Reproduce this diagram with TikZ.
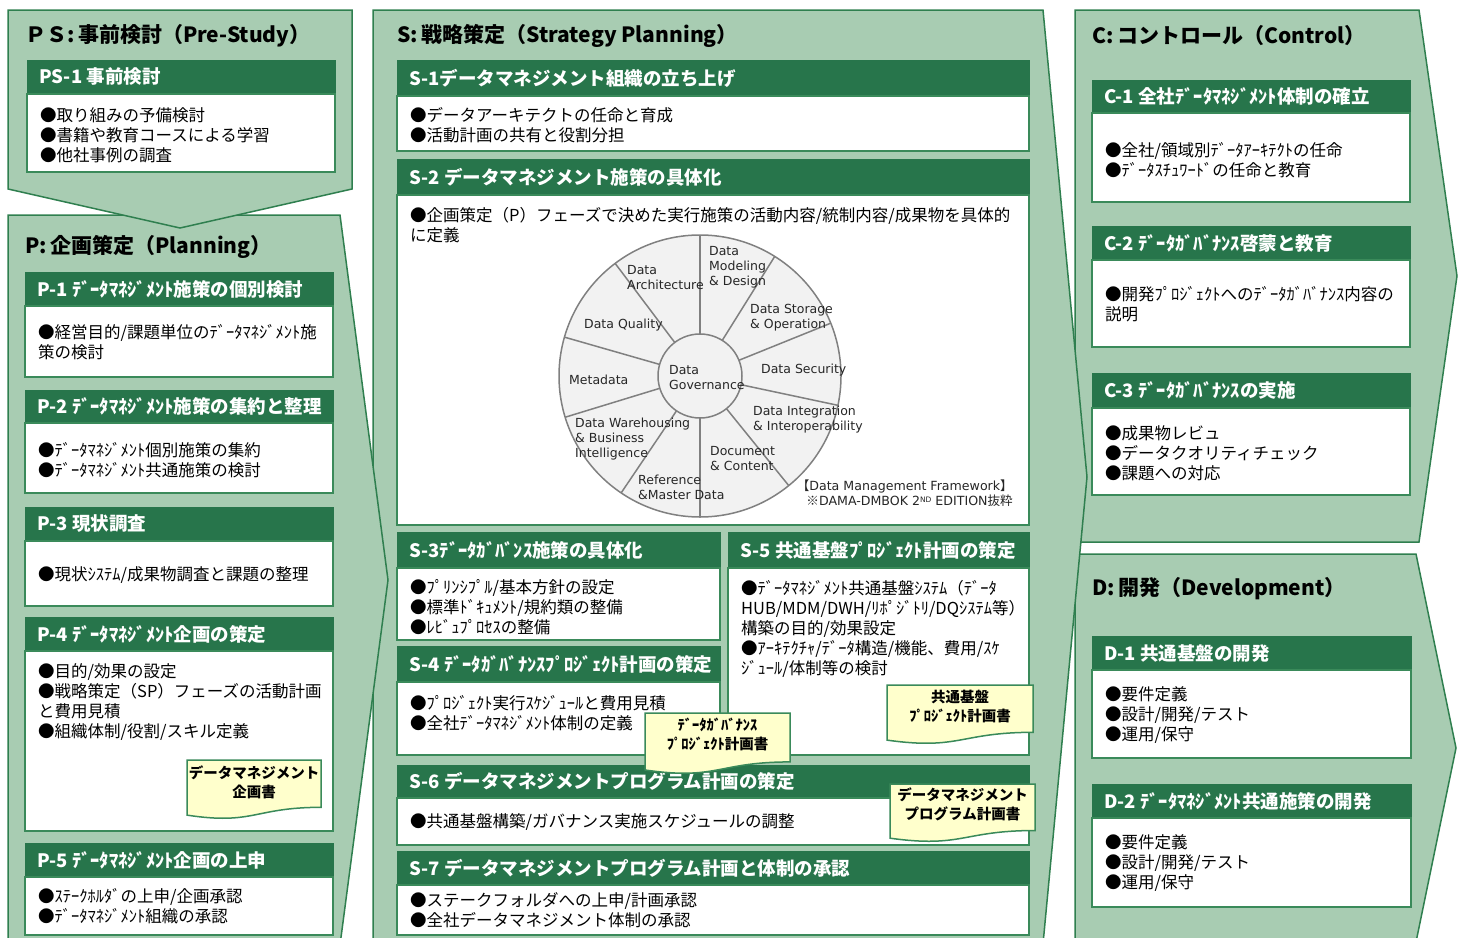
\documentclass[tikz,border=0pt]{standalone}
\usepackage{fontspec}
\setmainfont{Noto Sans CJK JP}
\newfontfamily\wf{DejaVu Sans}
\newfontfamily\jpf{Noto Sans CJK JP}
\usetikzlibrary{calc}
\definecolor{phasefill}{HTML}{A8CCB2}
\definecolor{phaseline}{HTML}{2F7F4F}
\definecolor{hdrfill}{HTML}{27754B}
\definecolor{boxline}{HTML}{3A8A5A}
\definecolor{notefill}{HTML}{FFFFCC}
\definecolor{wheelfill}{HTML}{F2F2F2}
\definecolor{wheelline}{HTML}{808080}
\newcommand\blk[9]{%
  \path[hdrbox] (#2,#3) rectangle (#4,#5);
  \path[bodybox] (#2,#5) rectangle (#4,#6);
  \node[hdrtext] (#1h) at ({#2+12},{(#3+#5)/2}) {#7};
  \node[bodytext] (#1b) at ({#2+13},#8) {#9};
}
\newcommand\docnote[7]{%
  \path[notebox] (#2,#3) -- (#4,#3) -- (#4,{#3+0.802*#5})
    .. controls ({(#2+#4)/2},{#3+0.802*#5}) and ({(#2+#4)/2},{#3+1.107*#5}) .. (#2,{#3+0.934*#5}) -- cycle;
  \node[notetext] (#1) at ({(#2+#4)/2},#6) {#7};
}
\begin{document}
\begin{tikzpicture}[x=1pt,y=-1pt,
  phase/.style={fill=phasefill, draw=phaseline, line width=1.5pt, line join=miter},
  hdrbox/.style={fill=hdrfill, draw=hdrfill, line width=1pt},
  bodybox/.style={fill=white, draw=boxline, line width=1.5pt},
  notebox/.style={fill=notefill, draw=boxline, line width=1.5pt},
  hdrtext/.style={text=white, font=\fontsize{18.5}{20}\selectfont\bfseries, anchor=west, inner sep=0pt},
  bodytext/.style={font=\fontsize{16.5}{20}\selectfont, anchor=west, align=left, inner sep=0pt},
  notetext/.style={font=\fontsize{14.5}{19}\selectfont\bfseries, align=center, inner sep=0pt},
  phasetitle/.style={font=\fontsize{21}{24}\selectfont\bfseries, anchor=west, inner sep=0pt},
  wlabel/.style={font=\wf\fontsize{12.5}{15}\selectfont, anchor=west, align=left, inner sep=0pt, text=black!85},
  wline/.style={draw=wheelline, line width=1.5pt}
]
\useasboundingbox (0,0) rectangle (1459,937);
\clip (0,0) rectangle (1459,937);

% phase shapes
\path[phase] (1075,10) -- (1419,10) -- (1457,276) -- (1419,542) -- (1075,542) -- cycle;
\path[phase] (1075,554) -- (1416,554) -- (1456,748) -- (1416,942) -- (1075,942) -- cycle;
\path[phase] (373,10) -- (1043,10) -- (1087,477) -- (1043,944) -- (373,944) -- cycle;
\path[phase] (8,215) -- (340,215) -- (388,580) -- (340,945) -- (8,945) -- cycle;
\path[phase] (8,10) -- (352,10) -- (352,189) -- (180,228) -- (8,189) -- cycle;

% phase titles
\node[phasetitle] (tPS) at (25,36) {ＰＳ:\,事前検討（Pre-Study）};
\node[phasetitle] (tP) at (25,247) {P:\,企画策定（Planning）};
\node[phasetitle] (tS) at (397,36) {S:\,戦略策定（Strategy Planning）};
\node[phasetitle] (tC) at (1092,36) {C:\,コントロール（Control）};
\node[phasetitle] (tD) at (1092,589) {D:\,開発（Development）};

% PS / P blocks
\blk{ps1}{27}{60}{335}{94}{172}{PS-1 事前検討}{135}{●取り組みの予備検討\\●書籍や教育コースによる学習\\●他社事例の調査}
\blk{p1}{25}{272}{333}{306}{377}{P-1 ﾃﾞｰﾀﾏﾈｼﾞﾒﾝﾄ施策の個別検討}{342}{●経営目的/課題単位のﾃﾞｰﾀﾏﾈｼﾞﾒﾝﾄ施\\策の検討}
\blk{p2}{25}{390}{333}{423}{493}{P-2 ﾃﾞｰﾀﾏﾈｼﾞﾒﾝﾄ施策の集約と整理}{460}{●ﾃﾞｰﾀﾏﾈｼﾞﾒﾝﾄ個別施策の集約\\●ﾃﾞｰﾀﾏﾈｼﾞﾒﾝﾄ共通施策の検討}
\blk{p3}{25}{507}{333}{541}{606}{P-3 現状調査}{575}{●現状ｼｽﾃﾑ/成果物調査と課題の整理}
\blk{p4}{25}{617}{333}{651}{831}{P-4 ﾃﾞｰﾀﾏﾈｼﾞﾒﾝﾄ企画の策定}{702}{●目的/効果の設定\\●戦略策定（SP）フェーズの活動計画\\と費用見積\\●組織体制/役割/スキル定義}
\blk{p5}{25}{843}{333}{877}{935}{P-5 ﾃﾞｰﾀﾏﾈｼﾞﾒﾝﾄ企画の上申}{906}{●ｽﾃｰｸﾎﾙﾀﾞの上申/企画承認\\●ﾃﾞｰﾀﾏﾈｼﾞﾒﾝﾄ組織の承認}
\docnote{n1}{187}{760}{321}{59}{782}{データマネジメント\\企画書}

% S blocks
\blk{s1}{397}{60}{1029}{96}{151}{S-1データマネジメント組織の立ち上げ}{125}{●データアーキテクトの任命と育成\\●活動計画の共有と役割分担}
\blk{s2}{397}{159}{1029}{195}{525}{S-2 データマネジメント施策の具体化}{225}{●企画策定（P）フェーズで決めた実行施策の活動内容/統制内容/成果物を具体的\\に定義}
\blk{s3}{397}{532}{720}{568}{640}{S-3ﾃﾞｰﾀｶﾞﾊﾞﾝｽ施策の具体化}{607}{●ﾌﾟﾘﾝｼﾌﾟﾙ/基本方針の設定\\●標準ﾄﾞｷｭﾒﾝﾄ/規約類の整備\\●ﾚﾋﾞｭﾌﾟﾛｾｽの整備}
\blk{s4}{397}{646}{720}{682}{755}{S-4 ﾃﾞｰﾀｶﾞﾊﾞﾅﾝｽﾌﾟﾛｼﾞｪｸﾄ計画の策定}{713}{●ﾌﾟﾛｼﾞｪｸﾄ実行ｽｹｼﾞｭｰﾙと費用見積\\●全社ﾃﾞｰﾀﾏﾈｼﾞﾒﾝﾄ体制の定義}
\blk{s5}{728}{532}{1029}{568}{755}{S-5 共通基盤ﾌﾟﾛｼﾞｪｸﾄ計画の策定}{629}{●ﾃﾞｰﾀﾏﾈｼﾞﾒﾝﾄ共通基盤ｼｽﾃﾑ（ﾃﾞｰﾀ\\HUB/MDM/DWH/ﾘﾎﾟｼﾞﾄﾘ/DQｼｽﾃﾑ等）\\構築の目的/効果設定\\●ｱｰｷﾃｸﾁｬ/ﾃﾞｰﾀ構造/機能、費用/ｽｹ\\ｼﾞｭｰﾙ/体制等の検討}
\blk{s6}{397}{765}{1029}{798}{845}{S-6 データマネジメントプログラム計画の策定}{822}{●共通基盤構築/ガバナンス実施スケジュールの調整}
\blk{s7}{397}{851}{1029}{885}{935}{S-7 データマネジメントプログラム計画と体制の承認}{910}{●ステークフォルダへの上申/計画承認\\●全社データマネジメント体制の承認}
\docnote{n2}{645}{713}{790}{61}{734}{ﾃﾞｰﾀｶﾞﾊﾞﾅﾝｽ\\ﾌﾟﾛｼﾞｪｸﾄ計画書}
\docnote{n3}{887}{685}{1033}{59}{707}{共通基盤\\ﾌﾟﾛｼﾞｪｸﾄ計画書}
\docnote{n4}{890}{784}{1035}{58}{804}{データマネジメント\\プログラム計画書}

% C / D blocks
\blk{c1}{1092}{80}{1410}{113}{202}{C-1 全社ﾃﾞｰﾀﾏﾈｼﾞﾒﾝﾄ体制の確立}{160}{●全社/領域別ﾃﾞｰﾀｱｰｷﾃｸﾄの任命\\●ﾃﾞｰﾀｽﾁｭﾜｰﾄﾞの任命と教育}
\blk{c2}{1092}{226}{1410}{260}{347}{C-2 ﾃﾞｰﾀｶﾞﾊﾞﾅﾝｽ啓蒙と教育}{304}{●開発ﾌﾟﾛｼﾞｪｸﾄへのﾃﾞｰﾀｶﾞﾊﾞﾅﾝｽ内容の\\説明}
\blk{c3}{1092}{373}{1410}{408}{495}{C-3 ﾃﾞｰﾀｶﾞﾊﾞﾅﾝｽの実施}{453}{●成果物レビュ\\●データクオリティチェック\\●課題への対応}
\blk{d1}{1092}{636}{1411}{670}{758}{D-1 共通基盤の開発}{715}{●要件定義\\●設計/開発/テスト\\●運用/保守}
\blk{d2}{1092}{784}{1411}{818}{907}{D-2 ﾃﾞｰﾀﾏﾈｼﾞﾒﾝﾄ共通施策の開発}{863}{●要件定義\\●設計/開発/テスト\\●運用/保守}

% DMBOK wheel
\begin{scope}[shift={(700,376)}, y=1pt]
  \path[wline, fill=wheelfill] (0,0) circle[radius=141];
  \foreach \a in {90,58,22,-12,-51,-90,-124,-163,164,127}
    \draw[wline] (\a:42) -- (\a:141);
  \path[wline, fill=wheelfill] (0,0) circle[radius=42];
\end{scope}
\node[wlabel] (wArch) at (627,277.5) {Data\\Architecture};
\node[wlabel] (wMod) at (709,267.5) {Data\\Modeling\\\& Design};
\node[wlabel] (wSto) at (750,317.5) {Data Storage\\\& Operation};
\node[wlabel] (wSec) at (761,370) {Data Security};
\node[wlabel] (wInt) at (753,419.5) {Data Integration\\\& Interoperability};
\node[wlabel] (wDoc) at (710,458.5) {Document\\\& Content};
\node[wlabel] (wRef) at (638,487.5) {Reference\\\&Master Data};
\node[wlabel] (wDW) at (575,439) {Data Warehousing\\\& Business\\Intelligence};
\node[wlabel] (wMeta) at (569,380) {Metadata};
\node[wlabel] (wQual) at (584,325) {Data Quality};
\node[wlabel] (wGov) at (669,377.5) {Data\\Governance};
\node[wlabel, anchor=east, align=right, font=\wf\fontsize{12.6}{15}\selectfont] (wSrc) at (1013,493.5)
  {{\jpf 【}Data Management Framework{\jpf 】}\\{\jpf ※}DAMA-DMBOK 2\raisebox{0.5ex}{\fontsize{7.5}{7.5}\selectfont ND} EDITION{\jpf 抜粋}};
\end{tikzpicture}
\end{document}
